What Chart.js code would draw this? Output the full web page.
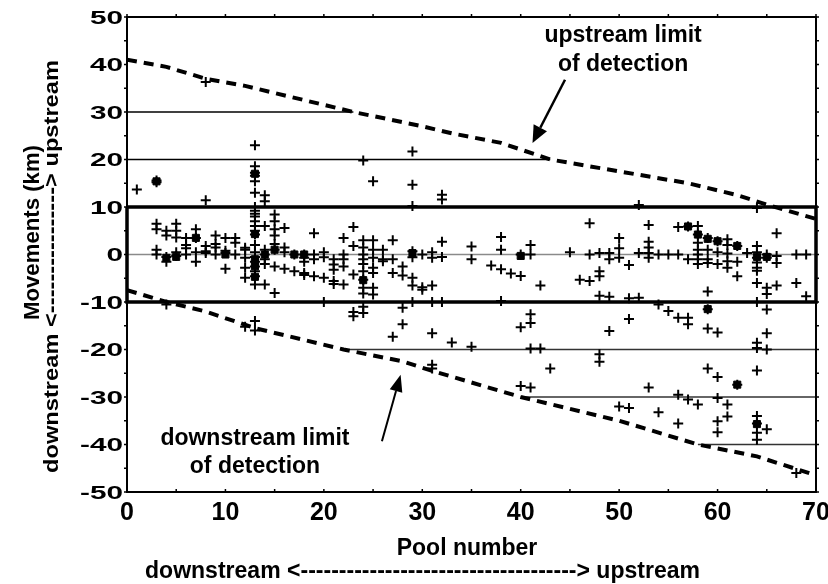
<!DOCTYPE html>
<html><head><meta charset="utf-8">
<script src="https://cdn.jsdelivr.net/npm/chart.js@4/dist/chart.umd.min.js"></script>
<style>html,body{margin:0;padding:0;background:#fff}canvas{display:block}</style>
</head><body>
<canvas id="c" width="828" height="584"></canvas>
<script>
// ---- data ----
const pools = [1,3,4,5,6,7,8,9,10,11,12,13,14,15,16,17,18,19,20,21,22,23,24,25,26,27,28,29,30,31,32,33,35,37,38,39,40,41,42,43,45,46,47,48,49,50,51,52,53,54,55,56,57,58,59,60,61,62,63,64,65,66,68,69];
const movesByPool = [
  [13.7],                                   // 1
  [15.6,15.2,6.5,5.3,1,0],                  // 3
  [5,4,-0.5,-1.5,-10.5],                    // 4
  [6.5,5,3.6,0.5,-0.3],                     // 5
  [3.5,2,1.3,0],                            // 6
  [5.3,3.5,0.5,-1.5],                       // 7
  [36.3,11.4,1.8,0.7,0.3],                  // 8
  [4,2.2,1.5,0],                            // 9
  [3.5,0.8,0.3,-3],                         // 10
  [3.5,2.5,0],                              // 11
  [1.4,1,-0.7,-2.8,-4.9,-15.2],             // 12
  [23,18.6,17.2,16.6,15.4,13,10,9.2,8.6,8,7,6,5,4.2,2,0.5,-0.5,-1.5,-2.5,-3.5,-4.6,-6.3,-14,-16], // 13
  [12.5,11.2,6,1,0,-1,-2,-6.3],             // 14
  [8.4,7,5.3,4,2.2,1,-2.5,-8.1],            // 15
  [5.6,1.5,0.5,-3],                         // 16
  [0,-3.5],                                 // 17
  [0,-0.7,-1.5,-3.9,-4.3],                  // 18
  [4.5,0,-1,-4.6],                          // 19
  [0.5,-0.6,-4.9,-10],                      // 20
  [-1,-2.1,-3.2,-5.6,-6.2],                 // 21
  [3.5,0,-1,-2.5,-6.3],                     // 22
  [5.8,1.8,-4.2,-12.1,-13],                 // 23
  [19.8,3,1.5,0,-1,-2,-3.5,-5.3,-7,-8.2,-11,-12.3], // 24
  [15.4,3,1,-0.7,-2.8,-3.9,-7,-8.4],        // 25
  [1,-1,-1.4],                              // 26
  [3,-1,-3.9,-17.3],                        // 27
  [-2.5,-4.4,-11.2,-14.7],                  // 28
  [21.7,14.7,10.2,0.7,-0.6,-4.9,-6.5,-10],  // 29
  [0,-6.9,-7.4],                            // 30
  [0.5,-0.7,-6.5,-10,-16.6,-23.2,-24],      // 31
  [12.6,11.6,2.7,-0.5,-10],                 // 32
  [-18.5],                                  // 33
  [1.7,-1,-19.4],                           // 35
  [-2.3],                                   // 37
  [3.7,1,-3.1,-9.8],                        // 38
  [-4],                                     // 39
  [0,-4.5,-15.3,-27.7],                     // 40
  [2,0,-12.6,-14.4,-19.8,-28],              // 41
  [-6.5,-19.8],                             // 42
  [-24],                                    // 43
  [0.5],                                    // 45
  [-5.3],                                   // 46
  [6.6,0,-5.6],                             // 47
  [0.3,-3.5,-4.6,-8.7,-21,-22.6],           // 48
  [0.3,-1,-8.9,-16.1],                      // 49
  [3.5,1.3,-0.7,-32],                       // 50
  [-2.2,-9.2,-13.6,-32.3],                  // 51
  [10.4,0.3,-9.1],                          // 52
  [6.2,2.7,1.5,0.3,-0.7,-28],               // 53
  [0,-10.5,-33.2],                          // 54
  [0,-11.9],                                // 55
  [5.8,0,-13.3,-29.5,-35.6],                // 56
  [5.9,-1,-13.3,-14.7,-30.5],               // 57
  [6,4.2,2.5,1,0,-1,-2,-31.6],              // 58
  [3.5,1,-1,-1.8,-7.8,-11.5,-15.6,-24],     // 59
  [2.8,0.5,-2,-16.4,-25.8,-30.2,-35.1,-37.4], // 60
  [3.2,2,0.2,-1.4,-2.8,-31.6,-34.1],        // 61
  [1.8,-1.5,-4.6,-27.4],                    // 62
  [0.3],                                    // 63
  [9.8,1.8,0.5,-0.7,-1.7,-2.8,-3.4,-6,-10,-18.6,-19.7,-24.4,-34,-35.6,-37.5,-39], // 64
  [0,-0.7,-7,-8.3,-11.6,-16.6,-20,-36.8],   // 65
  [4.5,-0.3,-1.8,-6.5],                     // 66
  [0,-6,-46],                               // 68
  [0,-8.8]                                  // 69
];
// places where many crosses pile up into a solid block
const clusterPool = [3,4,5,7,10,13,13,13,13,13,14,15,17,18,24,29,40,57,58,59,60,62,64,65,62,64,59];
const clusterKm   = [15.4,-0.7,-0.5,3.5,0,17,4.3,-1,-2.5,-4.7,0,1,0,0,-5.4,0.3,-0.3,5.9,4.2,3.3,2.8,1.8,-0.5,-0.5,-27.4,-35.7,-11.5];

// detection limits (dashed)
const upLimitPool   = [0,4,8,12,15,23,30,33,38,43,50,57,62,65,70];
const upLimitKm     = [41,39.5,37,35.5,34,30,27,25.5,23.5,20,17.5,15,12.5,10.5,7.5];
const downLimitPool = [0,4,8,13,18,22,28,31,40,50,58,64,70];
const downLimitKm   = [-7.5,-10,-12,-15.5,-18,-20,-22.5,-24.5,-30,-35,-40,-42.5,-46.5];

// horizontal reference lines
const refKm    = [30,20,-20,-30,-40];
const refStart = [0,0,22,40,58];
const refEnd   = [23,43,70,70,70];
const boxKm    = [10,-10];

const xTicks = [0,10,20,30,40,50,60,70];
const yTicks = [50,40,30,20,10,0,-10,-20,-30,-40,-50];

// ---- build datasets ----
const pts = [];
pools.forEach((p,i)=>movesByPool[i].forEach(v=>pts.push({x:p,y:v})));
const clusters = clusterPool.map((p,i)=>({x:p,y:clusterKm[i]}));
const lineDs = (data, color, width, dash, clip) => ({
  data, showLine:true, pointRadius:0, borderColor:color, borderWidth:width,
  borderDash:dash||[], fill:false, tension:0, clip: clip===undefined?undefined:clip
});
const datasets = [
  {data:pts, pointStyle:'cross', pointRadius:5, borderColor:'#000', borderWidth:2, backgroundColor:'#000'},
  {data:clusters, pointStyle:'rect', pointRadius:5, borderColor:'#000', borderWidth:1, backgroundColor:'#000'},
  lineDs(upLimitPool.map((p,i)=>({x:p,y:upLimitKm[i]})), '#000', 4, [10,7]),
  lineDs(downLimitPool.map((p,i)=>({x:p,y:downLimitKm[i]})), '#000', 4, [10,7]),
  lineDs([{x:0,y:boxKm[0]},{x:70,y:boxKm[0]},{x:70,y:boxKm[1]},{x:0,y:boxKm[1]},{x:0,y:boxKm[0]}], '#000', 3.5, [], 6),
];
refKm.forEach((k,i)=>datasets.push(lineDs([{x:refStart[i],y:k},{x:refEnd[i],y:k}], i<2?'#000':'#333', 1.4)));
datasets.push(lineDs([{x:0,y:0},{x:70,y:0}], '#8a8a8a', 1.5));

const FONT = '"Liberation Sans", Arial, sans-serif';
function txt(ctx, s, x, y, size, o) {
  o = o || {};
  ctx.save();
  ctx.font = 'bold ' + size + 'px ' + FONT;
  let sx = o.sx || 1;
  if (o.w) sx = o.w / ctx.measureText(s).width;
  ctx.translate(x, y);
  if (o.rot) ctx.rotate(o.rot);
  ctx.scale(sx, 1);
  ctx.textAlign = o.align || 'center';
  ctx.textBaseline = 'alphabetic';
  ctx.fillStyle = '#000';
  ctx.fillText(s, 0, 0);
  ctx.restore();
}
function arrow(ctx, x1, y1, x2, y2, lw, hl, hw) {
  const a = Math.atan2(y2 - y1, x2 - x1);
  const bx = x2 - hl * Math.cos(a), by = y2 - hl * Math.sin(a);
  ctx.save();
  ctx.strokeStyle = '#000'; ctx.fillStyle = '#000'; ctx.lineWidth = lw;
  ctx.beginPath(); ctx.moveTo(x1, y1); ctx.lineTo(bx, by); ctx.stroke();
  ctx.beginPath();
  ctx.moveTo(x2, y2);
  ctx.lineTo(bx + hw/2 * Math.sin(a), by - hw/2 * Math.cos(a));
  ctx.lineTo(bx - hw/2 * Math.sin(a), by + hw/2 * Math.cos(a));
  ctx.closePath(); ctx.fill();
  ctx.restore();
}

const decor = {
  id: 'decor',
  afterDatasetsDraw(chart) {
    const ctx = chart.ctx, xs = chart.scales.x, ys = chart.scales.y, a = chart.chartArea;
    const X = v => xs.getPixelForValue(v), Y = v => ys.getPixelForValue(v);
    ctx.save();
    ctx.strokeStyle = '#000'; ctx.lineWidth = 2;
    ctx.strokeRect(a.left, a.top, a.right - a.left, a.bottom - a.top);
    ctx.lineWidth = 1.5;
    ctx.beginPath();
    for (let v = 0; v <= 70; v += 5) {
      ctx.moveTo(X(v), a.top); ctx.lineTo(X(v), a.top - 3);
      ctx.moveTo(X(v), a.bottom); ctx.lineTo(X(v), a.bottom - 3);
    }
    for (let v = -50; v <= 50; v += 5) {
      ctx.moveTo(a.left, Y(v)); ctx.lineTo(a.left - 3, Y(v));
      ctx.moveTo(a.right, Y(v)); ctx.lineTo(a.right + 3, Y(v));
    }
    ctx.stroke();
    ctx.restore();
    // tick labels
    xTicks.forEach(v => txt(ctx, String(v), X(v), a.bottom + 28, 25));
    yTicks.forEach(v => txt(ctx, String(v), a.left - 4, Y(v) + 6.5, 18, {align:'right', sx:1.65}));
    // axis titles
    txt(ctx, 'Pool number', 467, 555, 23);
    txt(ctx, 'downstream <------------------------------------> upstream', 422.5, 578, 23, {w:555});
    txt(ctx, 'Movements (km)', 38.5, 232.5, 22, {rot:-Math.PI/2, w:175});
    txt(ctx, 'downstream <----------------> upstream', 57.5, 266.5, 21, {rot:-Math.PI/2, w:413});
    // annotations
    txt(ctx, 'upstream limit', X(50.4), Y(44.8), 23);
    txt(ctx, 'of detection', X(50.4), Y(38.7), 23);
    arrow(ctx, X(44.5), Y(36.8), X(41.2), Y(23.5), 2.5, 17, 15);
    txt(ctx, 'downstream limit', X(13.0), Y(-40.2), 23);
    txt(ctx, 'of detection', X(13.0), Y(-45.9), 23);
    arrow(ctx, X(25.9), Y(-39.3), X(27.8), Y(-25.3), 2, 17, 13);
  }
};

new Chart(document.getElementById('c'), {
  type: 'scatter',
  data: { datasets },
  options: {
    responsive: false, animation: false, devicePixelRatio: 1,
    layout: { padding: { left: 127, top: 17, right: 12, bottom: 92 } },
    plugins: { legend: {display:false}, tooltip: {enabled:false} },
    scales: {
      x: { type:'linear', min:0, max:70, display:false },
      y: { type:'linear', min:-50, max:50, display:false }
    }
  },
  plugins: [decor]
});
</script>
</body></html>
